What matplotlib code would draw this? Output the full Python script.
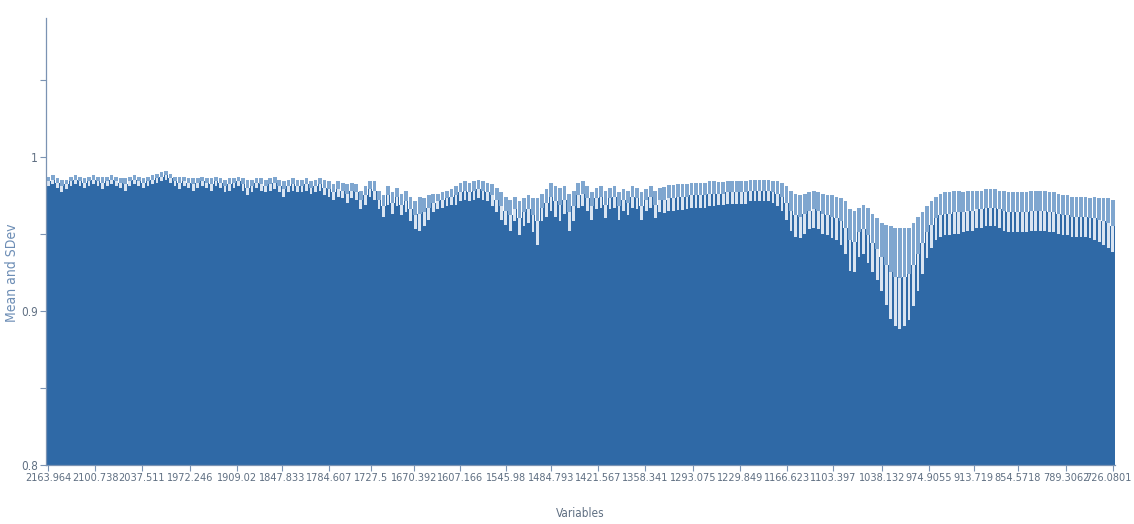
# coding:utf-8
import numpy as np
import matplotlib
matplotlib.use('Agg')
import matplotlib.pyplot as plt
import matplotlib.transforms as mtransforms

plt.rcParams['font.family'] = ['DejaVu Sans']
plt.rcParams['font.stretch'] = 'condensed'

# 光谱通道（每隔 3 个通道取一根柱）的均值
mean_vals = [
    0.984, 0.985, 0.983, 0.981, 0.982, 0.984, 0.985, 0.984, 0.983, 0.984,
    0.985, 0.984, 0.983, 0.984, 0.985, 0.984, 0.983, 0.982, 0.984, 0.985,
    0.984, 0.983, 0.984, 0.985, 0.986, 0.987, 0.988, 0.986, 0.984, 0.983,
    0.984, 0.983, 0.982, 0.983, 0.984, 0.983, 0.982, 0.984, 0.983, 0.981,
    0.982, 0.983, 0.984, 0.982, 0.980, 0.981, 0.983, 0.982, 0.981, 0.982,
    0.983, 0.981, 0.979, 0.981, 0.982, 0.981, 0.981, 0.982, 0.980, 0.981,
    0.982, 0.980, 0.979, 0.977, 0.979, 0.978, 0.976, 0.978, 0.977, 0.972,
    0.975, 0.979, 0.978, 0.972, 0.968, 0.975, 0.970, 0.974, 0.969, 0.971,
    0.966, 0.962, 0.963, 0.964, 0.967, 0.970, 0.971, 0.972, 0.973, 0.974,
    0.975, 0.977, 0.978, 0.977, 0.978, 0.979, 0.978, 0.977, 0.975, 0.972,
    0.968, 0.965, 0.962, 0.966, 0.960, 0.964, 0.966, 0.962, 0.958, 0.967,
    0.970, 0.974, 0.971, 0.969, 0.972, 0.964, 0.968, 0.975, 0.976, 0.973,
    0.968, 0.973, 0.974, 0.969, 0.973, 0.974, 0.968, 0.972, 0.970, 0.974,
    0.973, 0.968, 0.972, 0.974, 0.969, 0.972, 0.972, 0.973, 0.973, 0.974,
    0.974, 0.974, 0.975, 0.975, 0.975, 0.975, 0.976, 0.976, 0.976, 0.976,
    0.977, 0.977, 0.977, 0.977, 0.977, 0.978, 0.978, 0.978, 0.978, 0.978,
    0.977, 0.976, 0.974, 0.970, 0.965, 0.962, 0.961, 0.963, 0.965, 0.966,
    0.965, 0.963, 0.962, 0.961, 0.960, 0.958, 0.954, 0.946, 0.945, 0.951,
    0.953, 0.949, 0.944, 0.940, 0.935, 0.930, 0.925, 0.922, 0.921, 0.922,
    0.924, 0.930, 0.937, 0.944, 0.951, 0.956, 0.960, 0.962, 0.963, 0.963,
    0.964, 0.964, 0.964, 0.965, 0.965, 0.966, 0.966, 0.967, 0.967, 0.967,
    0.966, 0.965, 0.964, 0.964, 0.964, 0.964, 0.964, 0.965, 0.965, 0.965,
    0.965, 0.964, 0.964, 0.963, 0.962, 0.962, 0.961, 0.961, 0.961, 0.961,
    0.960, 0.960, 0.959, 0.958, 0.957, 0.955,
]

# 对应的标准差
sd_vals = [
    0.003, 0.003, 0.003, 0.004, 0.003, 0.003, 0.003, 0.003, 0.003, 0.003,
    0.003, 0.003, 0.004, 0.003, 0.003, 0.003, 0.003, 0.004, 0.003, 0.003,
    0.003, 0.003, 0.003, 0.003, 0.003, 0.003, 0.003, 0.003, 0.003, 0.004,
    0.003, 0.003, 0.004, 0.003, 0.003, 0.003, 0.004, 0.003, 0.003, 0.004,
    0.004, 0.003, 0.003, 0.004, 0.005, 0.004, 0.003, 0.004, 0.004, 0.004,
    0.004, 0.004, 0.005, 0.004, 0.004, 0.004, 0.004, 0.004, 0.004, 0.004,
    0.004, 0.005, 0.005, 0.005, 0.005, 0.005, 0.006, 0.005, 0.005, 0.006,
    0.006, 0.005, 0.006, 0.006, 0.007, 0.006, 0.007, 0.006, 0.007, 0.007,
    0.008, 0.009, 0.011, 0.009, 0.008, 0.006, 0.005, 0.005, 0.005, 0.005,
    0.006, 0.006, 0.006, 0.006, 0.006, 0.006, 0.006, 0.006, 0.007, 0.008,
    0.009, 0.009, 0.010, 0.008, 0.011, 0.009, 0.009, 0.011, 0.015, 0.009,
    0.009, 0.009, 0.010, 0.011, 0.009, 0.012, 0.010, 0.008, 0.008, 0.008,
    0.009, 0.007, 0.007, 0.009, 0.007, 0.007, 0.009, 0.007, 0.008, 0.007,
    0.007, 0.009, 0.007, 0.007, 0.009, 0.008, 0.0085, 0.0085, 0.0085, 0.0085,
    0.0085, 0.008, 0.008, 0.008, 0.008, 0.008, 0.008, 0.008, 0.0075, 0.0075,
    0.0075, 0.0075, 0.0075, 0.0075, 0.0075, 0.007, 0.007, 0.007, 0.007, 0.007,
    0.007, 0.008, 0.009, 0.011, 0.013, 0.014, 0.014, 0.013, 0.012, 0.012,
    0.012, 0.013, 0.013, 0.014, 0.014, 0.015, 0.017, 0.020, 0.020, 0.016,
    0.016, 0.018, 0.019, 0.020, 0.022, 0.026, 0.030, 0.032, 0.033, 0.032,
    0.030, 0.027, 0.024, 0.020, 0.017, 0.015, 0.014, 0.014, 0.014, 0.014,
    0.014, 0.014, 0.013, 0.013, 0.013, 0.012, 0.012, 0.012, 0.012, 0.012,
    0.012, 0.013, 0.013, 0.013, 0.013, 0.013, 0.013, 0.013, 0.013, 0.013,
    0.013, 0.013, 0.013, 0.013, 0.013, 0.013, 0.013, 0.013, 0.013, 0.013,
    0.013, 0.014, 0.014, 0.015, 0.016, 0.017,
]

# 横轴刻度：通道序号与波数
tick_channels = [0, 31, 62, 94, 125, 155, 186, 214, 242, 273, 303, 333,
                 364, 395, 427, 458, 489, 520, 552, 583, 613, 642, 674, 705]
tick_labels = ['2163.964', '2100.738', '2037.511', '1972.246', '1909.02',
               '1847.833', '1784.607', '1727.5', '1670.392', '1607.166',
               '1545.98', '1484.793', '1421.567', '1358.341', '1293.075',
               '1229.849', '1166.623', '1103.397', '1038.132', '974.9055',
               '913.719', '854.5718', '789.3062', '726.0801']

BAR = '#2f69a6'
UPPER = '#7fa6cf'
LOWER = '#d9e4f1'
AXIS = '#7b93b3'
TEXT = '#5f6f82'

mean = np.array(mean_vals)
sd = np.array(sd_vals)
step = 3
x = np.arange(len(mean)) * step

fig = plt.figure(figsize=(11.34, 5.24), dpi=100)
ax = fig.add_axes([46 / 1134, 59 / 524, 1069 / 1134, 447 / 524])

# 均值柱（满宽，避免出现不均匀的白缝）
ax.bar(x, mean, width=step, color=BAR, linewidth=0)
# 均值以上的 SD 段（浅蓝）和均值以下的 SD 段（近白色）
ax.bar(x, sd, bottom=mean, width=step * 0.8, color=UPPER, linewidth=0)
ax.bar(x, sd, bottom=mean - sd, width=step * 0.6, color=LOWER, linewidth=0)

ax.set_xlim(-step / 2, x[-1] + step / 2)
ax.set_ylim(0.8, 1.09)

ax.set_xticks(tick_channels)
ax.set_xticklabels(tick_labels, fontsize=7.8, color=TEXT)
ax.set_yticks([0.8, 0.9, 1.0])
ax.set_yticklabels(['0.8', '0.9', '1'], fontsize=8.5, color=TEXT)
ax.set_yticks([0.85, 0.95, 1.05], minor=True)
ax.tick_params(axis='both', which='both', length=4, width=0.8, color=AXIS, pad=2)

# 最后一个刻度标签稍微左移，免得被画布右边裁掉
last = ax.get_xticklabels()[-1]
last.set_transform(last.get_transform() +
                   mtransforms.ScaledTranslation(-3 / 72, 0, fig.dpi_scale_trans))

for side in ['top', 'right']:
    ax.spines[side].set_visible(False)
for side in ['left', 'bottom']:
    ax.spines[side].set_color(AXIS)
    ax.spines[side].set_linewidth(0.9)

ax.set_xlabel('Variables', fontsize=8.5, color=TEXT)
ax.xaxis.set_label_coords(0.5, -0.095)
ax.set_ylabel('Mean and SDev', fontsize=10, color='#6c8db5')
ax.yaxis.set_label_coords(-0.025, 0.43)

fig.savefig('out.png', dpi=100)
